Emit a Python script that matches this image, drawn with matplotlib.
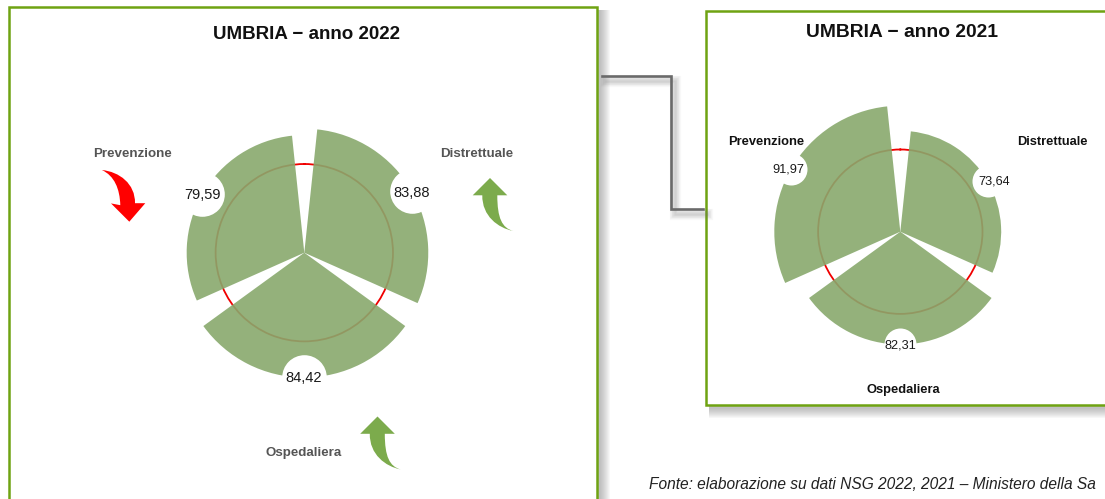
import numpy as np
import matplotlib
matplotlib.use('Agg')
import matplotlib.pyplot as plt
from matplotlib.patches import Rectangle, PathPatch
from matplotlib.path import Path

plt.rcParams['font.family'] = ['Liberation Sans', 'DejaVu Sans']

W, H = 1105, 499

areas = ['Distrettuale', 'Ospedaliera', 'Prevenzione']
centers_deg = [60, 180, 300]
values_2022 = [83.88, 84.42, 79.59]
values_2021 = [73.64, 82.31, 91.97]
threshold = 60
wedge_deg = 108

GREEN = '#88a96d'
FRAME = '#6fa312'

fig = plt.figure(figsize=(W / 100, H / 100), dpi=100, facecolor='white')

# page layer in pixel coordinates, for frames, titles and arrows
bg = fig.add_axes([0, 0, 1, 1], zorder=0)
bg.set_xlim(0, W)
bg.set_ylim(H, 0)
bg.axis('off')


def frame(x0, y0, x1, y1):
    # soft shadow, then the white box on top
    for i in range(10):
        grow = 10 - i
        bg.add_patch(Rectangle((x0 + 3, y0 + 3), x1 - x0 + grow, y1 - y0 + grow, fc='#707070', ec='none', alpha=0.05))
    bg.add_patch(Rectangle((x0, y0), x1 - x0, y1 - y0, fc='white', ec=FRAME, lw=1.8))


def connector(xs, ys):
    for i in range(8):
        bg.plot(np.array(xs) + 4, np.array(ys) + 5, color='#707070', lw=8 - i, alpha=0.045, solid_joinstyle='miter')
    bg.plot(xs, ys, color='#6a6a6a', lw=1.9, solid_joinstyle='miter')


connector([602, 671, 671, 703], [76, 76, 209, 209])
frame(9, 7, 597, 520)
frame(706, 11, 1130, 405)


def rose(cx, cy, scale, values, circle_r, val_size, offsets):
    rmax = 110
    half = rmax * scale
    ax = fig.add_axes([(cx - half) / W, 1 - (cy + half) / H, 2 * half / W, 2 * half / H],
                      projection='polar', zorder=1)
    ax.patch.set_alpha(0)
    ax.set_theta_zero_location('N')
    ax.set_theta_direction(-1)
    theta = np.radians(centers_deg)
    ax.set_axisbelow(True)
    ax.bar(theta, values, width=np.radians(wedge_deg), color=GREEN, alpha=0.9, lw=0, zorder=2)
    ax.scatter(theta, values, s=(2 * circle_r * 0.72) ** 2, color='white', lw=0, zorder=3)
    for t, v, off in zip(theta, values, offsets):
        ax.annotate(f'{v:.2f}'.replace('.', ','), (t, v), xytext=off, textcoords='offset points',
                    ha='center', va='center', fontsize=val_size, color='#1a1a1a', zorder=4)
    ax.set_ylim(0, rmax)
    ax.set_yticks([threshold])
    ax.set_yticklabels([])
    ax.set_xticks([])
    ax.yaxis.grid(True, color='#f00000', lw=1.3)
    ax.xaxis.grid(False)
    ax.spines['polar'].set_visible(False)


rose(304.3, 252.7, 1.478, values_2022, 22.3, 10.5, [(0, -1.5), (-0.3, -0.5), (0, -1)])
rose(900.3, 231.7, 1.37, values_2021, 16, 9.2, [(5, -0.5), (0, -0.5), (-2, -0.5)])

bg.text(306.5, 34.5, 'UMBRIA − anno 2022', ha='center', va='center', fontsize=13.5, fontweight='bold', color='#111111')
bg.text(902.5, 32.5, 'UMBRIA − anno 2021', ha='center', va='center', fontsize=13.9, fontweight='bold', color='#111111')

for lab, x, y in zip(areas, [477, 304, 132], [154, 453, 154]):
    bg.text(x, y, lab, ha='center', va='center', fontsize=9.6, fontweight='bold', color='#555555')
for lab, x, y in zip(areas, [1052, 903, 766], [142, 390, 142]):
    bg.text(x, y, lab, ha='center', va='center', fontsize=9.3, fontweight='bold', color='#111111')

# the reference page cuts this line at "Sa"
bg.text(649, 484.5, 'Fonte: elaborazione su dati NSG 2022, 2021 – Ministero della Sa',
        ha='left', va='center', fontsize=11.2, style='italic', color='#222222')

# curved arrows, shapes given relative to the tip
C4 = Path.CURVE4
L = Path.LINETO
up_verts = [(0, 0), (17.3, 17.3), (7.3, 17.3), (7.3, 40), (12, 50), (23.3, 53), (8, 50), (-8, 38), (-7.7, 17.3),
            (-17.3, 17.3), (0, 0)]
up_codes = [Path.MOVETO, L, L, C4, C4, C4, C4, C4, C4, L, Path.CLOSEPOLY]


def up_arrow(x, y):
    vs = [(x + a, y + b) for a, b in up_verts]
    bg.add_patch(PathPatch(Path(vs, up_codes), fc='#7cab4c', ec='none'))


up_arrow(490, 178)
up_arrow(377.5, 416.5)

# red one points down
tx, ty = 129.3, 221.7
red_verts = [(0, 0), (-18.3, -18.3), (-9, -16.5), (-9.5, -33), (-15, -46), (-27.5, -51.7), (-10, -50), (6, -38),
             (5.7, -18.5), (16, -18.5), (0, 0)]
vs = [(tx + a, ty + b) for a, b in red_verts]
bg.add_patch(PathPatch(Path(vs, up_codes), fc='#ff0000', ec='none'))

fig.savefig('out.png', dpi=100)
